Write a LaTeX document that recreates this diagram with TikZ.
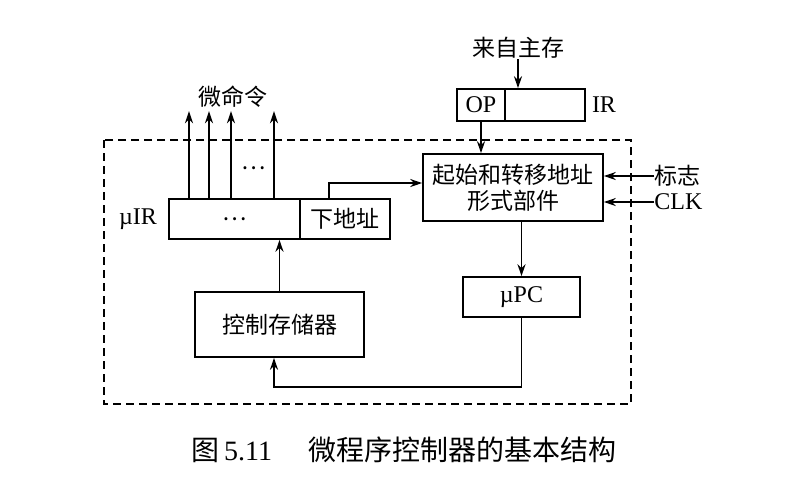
\documentclass[tikz,border=0pt]{standalone}
\usepackage{fontspec}
\setmainfont{Liberation Serif}
\newfontfamily\cjk{Noto Sans CJK SC}
\usetikzlibrary{arrows.meta}

\tikzset{
  box/.style={draw, line width=0.8pt, inner sep=0pt, font=\fontsize{11.5}{13}\selectfont\cjk},
  lbl/.style={inner sep=0pt, font=\fontsize{12}{14}\selectfont},
  arr/.style={line width=0.8pt, -{Stealth[length=6pt,width=4pt]}},
}

\begin{document}
\begin{tikzpicture}[x=0.5pt, y=-0.5pt]
        \useasboundingbox (0,0) rectangle (794,484);
        \draw[line width=0.8pt, dash pattern=on 4pt off 2.5pt] (104,140) rectangle (631,404);
        % registers and units
        \node[box, minimum width=65.5pt, minimum height=20pt] (mir) at (234.5,219) {⋯};
        \node[box, minimum width=45pt, minimum height=20pt] (addr) at (345,219) {下地址};
        \node[box, minimum width=90pt, minimum height=33.5pt, align=center] (start) at (513,187.5) {起始和转移地址\\形式部件};
        \node[box, minimum width=24pt, minimum height=16pt, font=\fontsize{12}{14}\selectfont] (op) at (481,105) {OP};
        \node[box, minimum width=40pt, minimum height=16pt] (irrest) at (545,105) {};
        \node[box, minimum width=58.5pt, minimum height=20pt, font=\fontsize{12}{14}\selectfont] (upc) at (521.5,297) {µPC};
        \node[box, minimum width=84.5pt, minimum height=32.5pt] (cs) at (279.5,324.5) {控制存储器};
        % labels
        \node[lbl, font=\fontsize{11.5}{13}\selectfont\cjk] (cmd) at (233,97) {微命令};
        \node[lbl, font=\fontsize{11.5}{13}\selectfont\cjk] (src) at (518,48) {来自主存};
        \node[lbl] (irlbl) at (604,105) {IR};
        \node[lbl] (mirlbl) at (138,219) {µIR};
        \node[lbl, font=\fontsize{11.5}{13}\selectfont\cjk, anchor=west] (flag) at (654,176) {标志};
        \node[lbl, anchor=west] (clk) at (654,202) {CLK};
        \node[lbl, font=\fontsize{11.5}{13}\selectfont\cjk] (dots) at (254,168) {⋯};
        \node[lbl, font=\fontsize{14}{16}\selectfont\cjk] (cap) at (404,450) {图\,\rmfamily 5.11\hspace{1.3em}\cjk 微程序控制器的基本结构};
        % connections
        \foreach \x in {189,209,231,274}
            \draw[arr] (mir.north -| \x,0) -- ++(0,-87);
        \draw[arr] (addr.north -| 329,0) |- (start.west |- 0,183);
        \draw[arr] (src.south) -- (src.south |- irrest.north);
        \draw[arr] (op.south) -- (op.south |- start.north);
        \draw[arr] (flag.west) -- (flag.west -| start.east);
        \draw[arr] (clk.west) -- (clk.west -| start.east);
        \draw[arr] (upc.north |- start.south) -- (upc.north);
        \draw[arr] (cs.north) -- (cs.north |- mir.south);
        \draw[arr] (upc.south) -- (upc.south |- 0,387) -| ([xshift=-2.75pt]cs.south);
\end{tikzpicture}
\end{document}
